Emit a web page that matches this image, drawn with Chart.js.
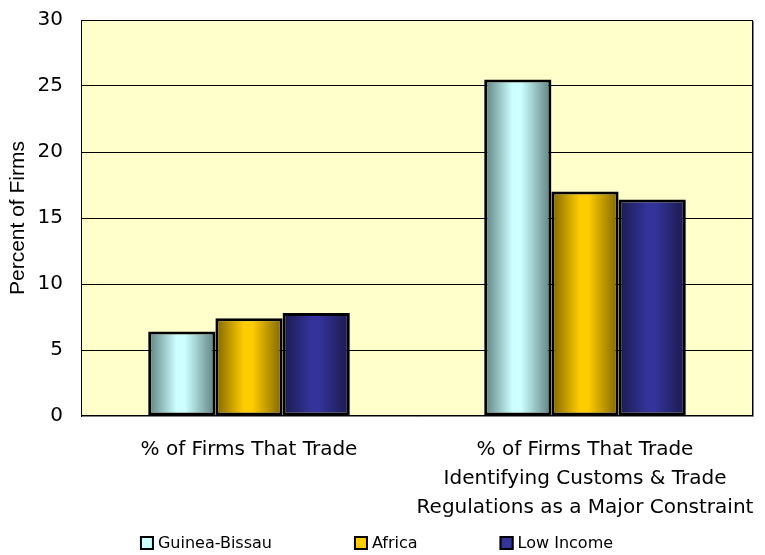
<!DOCTYPE html>
<html>
<head>
<meta charset="utf-8">
<script src="https://cdn.jsdelivr.net/npm/chart.js@4.4.1/dist/chart.umd.min.js"></script>
<style>
  html, body { margin: 0; padding: 0; background: #ffffff; }
  #wrap { width: 765px; height: 555px; }
</style>
</head>
<body>
<div id="wrap"><canvas id="chart" width="765" height="555"></canvas></div>
<script>
// categories and series
var categories = [
    '% of Firms That Trade',
    ['% of Firms That Trade', 'Identifying Customs & Trade', 'Regulations as a Major Constraint']
];
var seriesNames = ['Guinea-Bissau', 'Africa', 'Low Income'];
var guineaBissau = [6.4, 25.5];
var africa = [7.4, 17.0];
var lowIncome = [7.8, 16.4];
var yTicks = [0, 5, 10, 15, 20, 25, 30];

// colours: dark edge / bright centre, for the shaded cylinder look
var lightCols = ['#CCFFFF', '#FFCC00', '#333399'];
var darkCols = ['#5E7F7F', '#7F6500', '#1A1A4D'];

var FONT = 'DejaVu Sans';

// paints each bar with a horizontal gradient computed from its own x/width
var shadePlugin = {
    id: 'shade',
    beforeDatasetsDraw: function (chart) {
        var ctx = chart.ctx;
        chart.data.datasets.forEach(function (ds, i) {
            chart.getDatasetMeta(i).data.forEach(function (bar) {
                var x0 = bar.x - bar.width / 2, x1 = bar.x + bar.width / 2;
                var g = ctx.createLinearGradient(x0, 0, x1, 0);
                g.addColorStop(0, darkCols[i]);
                g.addColorStop(0.42, lightCols[i]);
                g.addColorStop(0.55, lightCols[i]);
                g.addColorStop(1, darkCols[i]);
                bar.options.backgroundColor = g;
            });
        });
    }
};

// yellow plot background + outer frame
var framePlugin = {
    id: 'frame',
    beforeDraw: function (chart) {
        var a = chart.chartArea, ctx = chart.ctx;
        ctx.save();
        ctx.fillStyle = '#FFFFCC';
        ctx.fillRect(a.left, a.top, a.right - a.left, a.bottom - a.top);
        ctx.restore();
    },
    afterDatasetsDraw: function (chart) {
        var a = chart.chartArea, ctx = chart.ctx;
        ctx.save();
        ctx.strokeStyle = '#000000';
        ctx.lineWidth = 1;
        ctx.strokeRect(a.left + 0.5, a.top + 0.5, a.right - a.left - 1, a.bottom - a.top - 1);
        ctx.strokeStyle = '#808080';
        ctx.beginPath();
        ctx.moveTo(a.right + 0.5, a.top + 1);
        ctx.lineTo(a.right + 0.5, a.bottom + 0.5);
        ctx.lineTo(a.left + 1, a.bottom + 0.5);
        ctx.stroke();
        ctx.restore();
    }
};

// legend drawn by hand so the item spacing can follow the reference
var legendPlugin = {
    id: 'legendRow',
    afterDraw: function (chart) {
        var ctx = chart.ctx;
        ctx.save();
        ctx.font = '16px "' + FONT + '"';
        var box = 14, gapText = 4, gapItem = 82;
        var widths = seriesNames.map(function (n) { return box + gapText + ctx.measureText(n).width; });
        var total = widths.reduce(function (a, b) { return a + b; }, 0) + gapItem * (seriesNames.length - 1);
        var x = (chart.width - 12) / 2 - total / 2;
        var yc = 543;
        seriesNames.forEach(function (n, i) {
            ctx.fillStyle = lightCols[i];
            ctx.fillRect(x, yc - box / 2, box, box);
            ctx.strokeStyle = '#000000';
            ctx.lineWidth = 2;
            ctx.strokeRect(x + 1, yc - box / 2 + 1, box - 2, box - 2);
            ctx.fillStyle = '#000000';
            ctx.textBaseline = 'middle';
            ctx.textAlign = 'left';
            ctx.fillText(n, x + box + gapText, yc + 1);
            x += widths[i] + gapItem;
        });
        ctx.restore();
    }
};

function makeSet(idx, values) {
    return {
        label: seriesNames[idx],
        data: values,
        backgroundColor: function () { return lightCols[idx]; },
        borderColor: '#000000',
        borderWidth: 3,
        borderSkipped: false
    };
}

new Chart(document.getElementById('chart'), {
    type: 'bar',
    data: {
        labels: categories,
        datasets: [
            makeSet(0, guineaBissau),
            makeSet(1, africa),
            makeSet(2, lowIncome)
        ]
    },
    plugins: [framePlugin, shadePlugin, legendPlugin],
    options: {
        responsive: false,
        animation: false,
        layout: { padding: { top: 20, right: 12, left: 0, bottom: 30 } },
        datasets: { bar: { barPercentage: 1, categoryPercentage: 0.6 } },
        scales: {
            x: {
                grid: { display: false, drawTicks: false },
                border: { display: false },
                ticks: {
                    color: '#000000',
                    font: { family: FONT, size: 20, lineHeight: 1.45 },
                    maxRotation: 0,
                    autoSkip: false,
                    padding: 19
                },
                afterFit: function (scale) {
                    scale.height = 109;
                    scale.paddingLeft = 0;
                    scale.paddingRight = 0;
                }
            },
            y: {
                min: 0,
                max: 30,
                afterBuildTicks: function (scale) {
                    scale.ticks = yTicks.map(function (v) { return { value: v }; });
                },
                grid: { color: '#000000', lineWidth: 1, drawTicks: false },
                border: { display: false },
                ticks: {
                    color: '#000000',
                    font: { family: FONT, size: 20 },
                    padding: 18
                },
                title: {
                    display: true,
                    text: 'Percent of Firms',
                    color: '#000000',
                    font: { family: 'Liberation Sans', size: 21 },
                    padding: { top: 6, bottom: 0 }
                },
                afterFit: function (scale) {
                    scale.width = 81;
                    scale.paddingTop = 0;
                    scale.paddingBottom = 0;
                }
            }
        },
        plugins: {
            tooltip: { enabled: false },
            legend: { display: false }
        }
    }
});
</script>
</body>
</html>
